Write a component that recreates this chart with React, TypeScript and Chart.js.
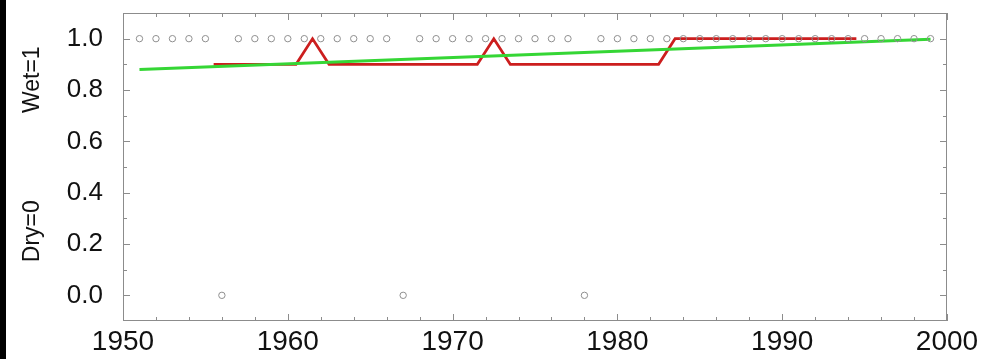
import React, { useEffect, useRef } from 'react';
import { Chart, registerables } from 'chart.js';

Chart.register(...registerables);

// Annual wet (1) / dry (0) observations
const years = [
  1951, 1952, 1953, 1954, 1955, 1956, 1957, 1958, 1959, 1960,
  1961, 1962, 1963, 1964, 1965, 1966, 1967, 1968, 1969, 1970,
  1971, 1972, 1973, 1974, 1975, 1976, 1977, 1978, 1979, 1980,
  1981, 1982, 1983, 1984, 1985, 1986, 1987, 1988, 1989, 1990,
  1991, 1992, 1993, 1994, 1995, 1996, 1997, 1998, 1999,
];
const wetDry = [
  1, 1, 1, 1, 1, 0, 1, 1, 1, 1,
  1, 1, 1, 1, 1, 1, 0, 1, 1, 1,
  1, 1, 1, 1, 1, 1, 1, 0, 1, 1,
  1, 1, 1, 1, 1, 1, 1, 1, 1, 1,
  1, 1, 1, 1, 1, 1, 1, 1, 1,
];

// Running mean (red)
const avgYears = [
  1955.5, 1956.5, 1957.5, 1958.5, 1959.5, 1960.5, 1961.5, 1962.5, 1963.5, 1964.5,
  1965.5, 1966.5, 1967.5, 1968.5, 1969.5, 1970.5, 1971.5, 1972.5, 1973.5, 1974.5,
  1975.5, 1976.5, 1977.5, 1978.5, 1979.5, 1980.5, 1981.5, 1982.5, 1983.5, 1984.5,
  1985.5, 1986.5, 1987.5, 1988.5, 1989.5, 1990.5, 1991.5, 1992.5, 1993.5, 1994.5,
];
const avgValues = [
  0.9, 0.9, 0.9, 0.9, 0.9, 0.9, 1.0, 0.9, 0.9, 0.9,
  0.9, 0.9, 0.9, 0.9, 0.9, 0.9, 0.9, 1.0, 0.9, 0.9,
  0.9, 0.9, 0.9, 0.9, 0.9, 0.9, 0.9, 0.9, 1.0, 1.0,
  1.0, 1.0, 1.0, 1.0, 1.0, 1.0, 1.0, 1.0, 1.0, 1.0,
];

// Linear trend (green)
const trendYears = [1951, 1999];
const trendValues = [0.88, 0.998];

// Axis ticks
const xTickLabels = [1950, 1960, 1970, 1980, 1990, 2000];
const yTickLabels = [0.0, 0.2, 0.4, 0.6, 0.8, 1.0];
const yTitles = ['Wet=1', 'Dry=0'];

const FONT = "'Liberation Sans', Arial, Helvetica, sans-serif";

const framePlugin = {
  id: 'framePlugin',
  beforeDatasetsDraw(chart: any) {
    const { ctx, chartArea } = chart;
    const xs = chart.scales.x;
    const ys = chart.scales.y;
    const { left, right, top, bottom } = chartArea;
    ctx.save();
    ctx.strokeStyle = '#8c8c8c';
    ctx.lineWidth = 1;
    ctx.strokeRect(left + 0.5, top + 0.5, right - left - 1, bottom - top - 1);
    ctx.beginPath();
    // x ticks (every 2 years, major every 10)
    for (let v = xs.min; v <= xs.max + 1e-9; v += 2) {
      const px = Math.round(xs.getPixelForValue(v)) + 0.5;
      const len = Math.abs(v % 10) < 1e-9 ? 7 : 4;
      ctx.moveTo(px, bottom);
      ctx.lineTo(px, bottom - len);
      ctx.moveTo(px, top);
      ctx.lineTo(px, top + len);
    }
    // y ticks (every 0.1, major every 0.2)
    for (let i = 0; i <= 10; i++) {
      const v = i / 10;
      const py = Math.round(ys.getPixelForValue(v)) + 0.5;
      const len = i % 2 === 0 ? 7 : 4;
      ctx.moveTo(left, py);
      ctx.lineTo(left + len, py);
      ctx.moveTo(right, py);
      ctx.lineTo(right - len, py);
    }
    ctx.stroke();
    ctx.restore();
  },
  afterDraw(chart: any) {
    const { ctx } = chart;
    const ys = chart.scales.y;
    ctx.save();
    ctx.fillStyle = '#111';
    ctx.font = `23px ${FONT}`;
    ctx.textAlign = 'center';
    ctx.textBaseline = 'alphabetic';
    const centers = [ys.getPixelForValue(0.84), ys.getPixelForValue(0.25)];
    yTitles.forEach((t, i) => {
      ctx.save();
      ctx.translate(39, centers[i]);
      ctx.rotate(-Math.PI / 2);
      ctx.fillText(t, 0, 0);
      ctx.restore();
    });
    ctx.restore();
  },
};

export default function App() {
  const ref = useRef<HTMLCanvasElement | null>(null);

  useEffect(() => {
    if (!ref.current) return;
    const obs = years.map((y, i) => ({ x: y, y: wetDry[i] }));
    const avg = avgYears.map((y, i) => ({ x: y, y: avgValues[i] }));
    const trend = trendYears.map((y, i) => ({ x: y, y: trendValues[i] }));

    const chart = new Chart(ref.current, {
      type: 'line',
      data: {
        datasets: [
          {
            label: 'Observed',
            data: obs,
            showLine: false,
            pointRadius: 3.2,
            pointBorderWidth: 1,
            pointBorderColor: '#8f8f8f',
            pointBackgroundColor: 'rgba(0,0,0,0)',
          },
          {
            label: 'Trend',
            data: trend,
            borderColor: '#35d635',
            borderWidth: 3,
            pointRadius: 0,
            tension: 0,
          },
          {
            label: 'Running mean',
            data: avg,
            borderColor: '#cc1e1e',
            borderWidth: 2.7,
            pointRadius: 0,
            tension: 0,
          },
        ],
      },
      options: {
        responsive: false,
        animation: false,
        layout: { padding: { left: 0, right: 45, top: 13, bottom: 0 } },
        plugins: {
          legend: { display: false },
          tooltip: { enabled: false },
        },
        scales: {
          x: {
            type: 'linear',
            min: 1950,
            max: 2000,
            grid: { display: false, drawTicks: false },
            border: { display: false },
            afterBuildTicks: (scale: any) => {
              scale.ticks = xTickLabels.map((v) => ({ value: v }));
            },
            afterFit: (scale: any) => {
              scale.height = 38;
              scale.paddingLeft = 0;
              scale.paddingRight = 0;
            },
            ticks: {
              autoSkip: false,
              maxRotation: 0,
              padding: 4,
              color: '#111',
              font: { family: FONT, size: 28 },
              callback: (v: any) => String(v),
            },
          },
          y: {
            type: 'linear',
            min: -0.1,
            max: 1.1,
            grid: { display: false, drawTicks: false },
            border: { display: false },
            afterBuildTicks: (scale: any) => {
              scale.ticks = yTickLabels.map((v) => ({ value: v }));
            },
            afterFit: (scale: any) => {
              scale.width = 123;
              scale.paddingTop = 0;
              scale.paddingBottom = 0;
            },
            ticks: {
              autoSkip: false,
              padding: 20,
              color: '#111',
              font: { family: FONT, size: 26 },
              callback: (v: any) => Number(v).toFixed(1),
            },
          },
        },
      },
      plugins: [framePlugin],
    });
    return () => chart.destroy();
  }, []);

  return (
    <div style={{ position: 'absolute', left: 0, top: 0, width: 992, height: 359, background: '#fff' }}>
      <div style={{ position: 'absolute', left: 0, top: 0, width: 6, height: 359, background: '#000' }} />
      <canvas ref={ref} width={992} height={359} style={{ position: 'absolute', left: 0, top: 0, display: 'block' }} />
    </div>
  );
}
